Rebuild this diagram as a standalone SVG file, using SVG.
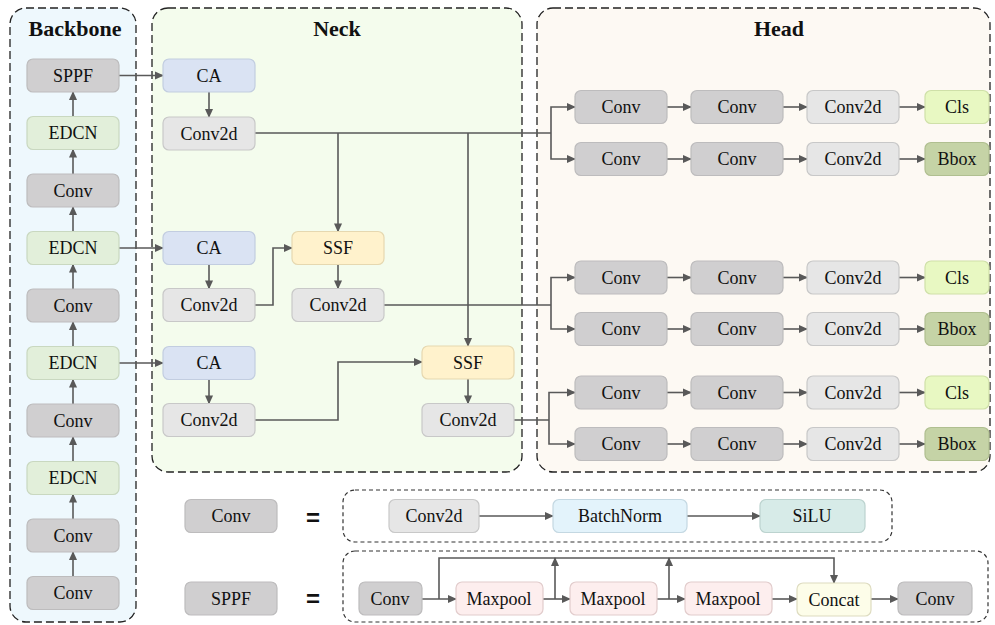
<svg xmlns="http://www.w3.org/2000/svg" width="995" height="625" viewBox="0 0 995 625" font-family="'Liberation Serif', 'Times New Roman', serif">
<defs>
<marker id="ah" viewBox="0 0 10 10" refX="9" refY="5" markerWidth="9" markerHeight="9" markerUnits="userSpaceOnUse" orient="auto">
<path d="M0,0.5 L10,5 L0,9.5 z" fill="#595959"/>
</marker>
<style>
.box{stroke-width:1.2}
.conv{fill:#d0cfd0;stroke:#bdbcbd}
.edcn{fill:#e2efda;stroke:#c9d8c0}
.ca{fill:#dae3f3;stroke:#c2cde0}
.c2d{fill:#e6e6e6;stroke:#c8c8c8}
.ssf{fill:#fff2cc;stroke:#e6d8b0}
.cls{fill:#e8f8c2;stroke:#cfe0a8}
.bbox{fill:#c5d3a6;stroke:#b0bf90}
.bn{fill:#e3f3fb;stroke:#c4d8e2}
.silu{fill:#d7ebe8;stroke:#bcd3cf}
.mp{fill:#fdeeee;stroke:#e2cccc}
.cat{fill:#fdfde9;stroke:#dedcc0}
text{font-family:'Liberation Serif','Times New Roman',serif;font-size:18px;fill:#111;text-anchor:middle}
.title{font-size:22px;font-weight:bold}
.eq{font-family:'Liberation Sans',Arial,sans-serif;font-size:24px;font-weight:bold}
.cont{stroke:#222;stroke-width:1.3;stroke-dasharray:8 4}
.def{fill:none;stroke:#333;stroke-width:1.2;stroke-dasharray:4 3}
.ln{fill:none;stroke:#595959;stroke-width:1.6}
.ar{fill:none;stroke:#595959;stroke-width:1.6;marker-end:url(#ah)}
</style>
</defs>

<g id="containers">
<rect id="backbone-box" class="cont" x="10" y="8" width="126" height="614" rx="16" fill="#eef8fd"/>
<rect id="neck-box" class="cont" x="152" y="8" width="370" height="464" rx="16" fill="#f4fced"/>
<rect id="head-box" class="cont" x="537" y="8" width="453" height="464" rx="16" fill="#fdf9f3"/>
<rect id="conv-def-box" class="def" x="343" y="490" width="549" height="52" rx="12"/>
<rect id="sppf-def-box" class="def" x="343" y="551" width="645" height="71" rx="12"/>
<text class="title" x="75" y="36">Backbone</text>
<text class="title" x="337" y="36">Neck</text>
<text class="title" x="779" y="36">Head</text>
</g>

<g id="connectors">
<line class="ar" x1="73" y1="116.5" x2="73" y2="92"/>
<line class="ar" x1="73" y1="174" x2="73" y2="149.5"/>
<line class="ar" x1="73" y1="231.5" x2="73" y2="207"/>
<line class="ar" x1="73" y1="289" x2="73" y2="264.5"/>
<line class="ar" x1="73" y1="346.5" x2="73" y2="322"/>
<line class="ar" x1="73" y1="404" x2="73" y2="379.5"/>
<line class="ar" x1="73" y1="461.5" x2="73" y2="437"/>
<line class="ar" x1="73" y1="519" x2="73" y2="494.5"/>
<line class="ar" x1="73" y1="576.5" x2="73" y2="552"/>
<line class="ar" x1="119" y1="75.5" x2="163" y2="75.5"/>
<line class="ar" x1="119" y1="248" x2="163" y2="248"/>
<line class="ar" x1="119" y1="363" x2="163" y2="363"/>
<line class="ar" x1="209" y1="92" x2="209" y2="117"/>
<line class="ar" x1="209" y1="264.5" x2="209" y2="288.5"/>
<line class="ar" x1="209" y1="379.5" x2="209" y2="403.5"/>
<polyline class="ln" points="255,133 551,133"/>
<line class="ar" x1="338" y1="133" x2="338" y2="231.5"/>
<line class="ar" x1="468" y1="133" x2="468" y2="346"/>
<polyline class="ar" points="255,305 273,305 273,248 292,248"/>
<polyline class="ar" points="255,420 338,420 338,362 422,362"/>
<line class="ar" x1="338" y1="264.5" x2="338" y2="288.5"/>
<line class="ar" x1="468" y1="379" x2="468" y2="403.5"/>
<polyline class="ln" points="384,305 551,305"/>
<polyline class="ln" points="514,420 549,420"/>
<polyline class="ar" points="551,133 551,107 575,107"/>
<polyline class="ar" points="551,133 551,159 575,159"/>
<polyline class="ar" points="551,305 551,277.5 575,277.5"/>
<polyline class="ar" points="551,305 551,329 575,329"/>
<polyline class="ar" points="549,420 549,392.5 575,392.5"/>
<polyline class="ar" points="549,420 549,444 575,444"/>
<line class="ar" x1="667" y1="107" x2="691" y2="107"/>
<line class="ar" x1="783" y1="107" x2="807" y2="107"/>
<line class="ar" x1="899" y1="107" x2="925" y2="107"/>
<line class="ar" x1="667" y1="159" x2="691" y2="159"/>
<line class="ar" x1="783" y1="159" x2="807" y2="159"/>
<line class="ar" x1="899" y1="159" x2="925" y2="159"/>
<line class="ar" x1="667" y1="277.5" x2="691" y2="277.5"/>
<line class="ar" x1="783" y1="277.5" x2="807" y2="277.5"/>
<line class="ar" x1="899" y1="277.5" x2="925" y2="277.5"/>
<line class="ar" x1="667" y1="329" x2="691" y2="329"/>
<line class="ar" x1="783" y1="329" x2="807" y2="329"/>
<line class="ar" x1="899" y1="329" x2="925" y2="329"/>
<line class="ar" x1="667" y1="392.5" x2="691" y2="392.5"/>
<line class="ar" x1="783" y1="392.5" x2="807" y2="392.5"/>
<line class="ar" x1="899" y1="392.5" x2="925" y2="392.5"/>
<line class="ar" x1="667" y1="444" x2="691" y2="444"/>
<line class="ar" x1="783" y1="444" x2="807" y2="444"/>
<line class="ar" x1="899" y1="444" x2="925" y2="444"/>
<line class="ar" x1="479" y1="516" x2="553" y2="516"/>
<line class="ar" x1="687" y1="516" x2="760" y2="516"/>
<line class="ar" x1="422" y1="599" x2="456" y2="599"/>
<line class="ar" x1="543" y1="599" x2="570" y2="599"/>
<line class="ar" x1="657" y1="599" x2="685" y2="599"/>
<line class="ar" x1="772" y1="599" x2="797" y2="599"/>
<line class="ar" x1="871" y1="599" x2="898" y2="599"/>
<polyline class="ar" points="439,599 439,558 834,558 834,583"/>
<line class="ar" x1="555" y1="599" x2="555" y2="558"/>
<line class="ar" x1="669" y1="599" x2="669" y2="558"/>
</g>

<g id="backbone-nodes">
<g id="bb-sppf"><rect class="box conv" x="27" y="59" width="92" height="33" rx="6"/><text x="73" y="81.5">SPPF</text></g>
<g id="bb-edcn4"><rect class="box edcn" x="27" y="116.5" width="92" height="33" rx="6"/><text x="73" y="139">EDCN</text></g>
<g id="bb-conv5"><rect class="box conv" x="27" y="174" width="92" height="33" rx="6"/><text x="73" y="196.5">Conv</text></g>
<g id="bb-edcn3"><rect class="box edcn" x="27" y="231.5" width="92" height="33" rx="6"/><text x="73" y="254">EDCN</text></g>
<g id="bb-conv4"><rect class="box conv" x="27" y="289" width="92" height="33" rx="6"/><text x="73" y="311.5">Conv</text></g>
<g id="bb-edcn2"><rect class="box edcn" x="27" y="346.5" width="92" height="33" rx="6"/><text x="73" y="369">EDCN</text></g>
<g id="bb-conv3"><rect class="box conv" x="27" y="404" width="92" height="33" rx="6"/><text x="73" y="426.5">Conv</text></g>
<g id="bb-edcn1"><rect class="box edcn" x="27" y="461.5" width="92" height="33" rx="6"/><text x="73" y="484">EDCN</text></g>
<g id="bb-conv2"><rect class="box conv" x="27" y="519" width="92" height="33" rx="6"/><text x="73" y="541.5">Conv</text></g>
<g id="bb-conv1"><rect class="box conv" x="27" y="576.5" width="92" height="33" rx="6"/><text x="73" y="599">Conv</text></g>
</g>

<g id="neck-nodes">
<g id="nk-ca1"><rect class="box ca" x="163" y="59" width="92" height="33" rx="6"/><text x="209" y="81.5">CA</text></g>
<g id="nk-c2d1"><rect class="box c2d" x="163" y="117" width="92" height="33" rx="6"/><text x="209" y="139.5">Conv2d</text></g>
<g id="nk-ca2"><rect class="box ca" x="163" y="231.5" width="92" height="33" rx="6"/><text x="209" y="254">CA</text></g>
<g id="nk-c2d2"><rect class="box c2d" x="163" y="288.5" width="92" height="33" rx="6"/><text x="209" y="311">Conv2d</text></g>
<g id="nk-ca3"><rect class="box ca" x="163" y="346.5" width="92" height="33" rx="6"/><text x="209" y="369">CA</text></g>
<g id="nk-c2d3"><rect class="box c2d" x="163" y="403.5" width="92" height="33" rx="6"/><text x="209" y="426">Conv2d</text></g>
<g id="nk-ssf1"><rect class="box ssf" x="292" y="231.5" width="92" height="33" rx="6"/><text x="338" y="254">SSF</text></g>
<g id="nk-c2d4"><rect class="box c2d" x="292" y="288.5" width="92" height="33" rx="6"/><text x="338" y="311">Conv2d</text></g>
<g id="nk-ssf2"><rect class="box ssf" x="422" y="346" width="92" height="33" rx="6"/><text x="468" y="368.5">SSF</text></g>
<g id="nk-c2d5"><rect class="box c2d" x="422" y="403.5" width="92" height="33" rx="6"/><text x="468" y="426">Conv2d</text></g>
</g>

<g id="head-nodes">
<g id="hd-r1">
<rect class="box conv" x="575" y="90.5" width="92" height="33" rx="6"/><text x="621" y="113">Conv</text>
<rect class="box conv" x="691" y="90.5" width="92" height="33" rx="6"/><text x="737" y="113">Conv</text>
<rect class="box c2d" x="807" y="90.5" width="92" height="33" rx="6"/><text x="853" y="113">Conv2d</text>
<rect class="box cls" x="925" y="90.5" width="64" height="33" rx="6"/><text x="957" y="113">Cls</text>
</g>
<g id="hd-r2">
<rect class="box conv" x="575" y="142.5" width="92" height="33" rx="6"/><text x="621" y="165">Conv</text>
<rect class="box conv" x="691" y="142.5" width="92" height="33" rx="6"/><text x="737" y="165">Conv</text>
<rect class="box c2d" x="807" y="142.5" width="92" height="33" rx="6"/><text x="853" y="165">Conv2d</text>
<rect class="box bbox" x="925" y="142.5" width="64" height="33" rx="6"/><text x="957" y="165">Bbox</text>
</g>
<g id="hd-r3">
<rect class="box conv" x="575" y="261" width="92" height="33" rx="6"/><text x="621" y="283.5">Conv</text>
<rect class="box conv" x="691" y="261" width="92" height="33" rx="6"/><text x="737" y="283.5">Conv</text>
<rect class="box c2d" x="807" y="261" width="92" height="33" rx="6"/><text x="853" y="283.5">Conv2d</text>
<rect class="box cls" x="925" y="261" width="64" height="33" rx="6"/><text x="957" y="283.5">Cls</text>
</g>
<g id="hd-r4">
<rect class="box conv" x="575" y="312.5" width="92" height="33" rx="6"/><text x="621" y="335">Conv</text>
<rect class="box conv" x="691" y="312.5" width="92" height="33" rx="6"/><text x="737" y="335">Conv</text>
<rect class="box c2d" x="807" y="312.5" width="92" height="33" rx="6"/><text x="853" y="335">Conv2d</text>
<rect class="box bbox" x="925" y="312.5" width="64" height="33" rx="6"/><text x="957" y="335">Bbox</text>
</g>
<g id="hd-r5">
<rect class="box conv" x="575" y="376" width="92" height="33" rx="6"/><text x="621" y="398.5">Conv</text>
<rect class="box conv" x="691" y="376" width="92" height="33" rx="6"/><text x="737" y="398.5">Conv</text>
<rect class="box c2d" x="807" y="376" width="92" height="33" rx="6"/><text x="853" y="398.5">Conv2d</text>
<rect class="box cls" x="925" y="376" width="64" height="33" rx="6"/><text x="957" y="398.5">Cls</text>
</g>
<g id="hd-r6">
<rect class="box conv" x="575" y="427.5" width="92" height="33" rx="6"/><text x="621" y="450">Conv</text>
<rect class="box conv" x="691" y="427.5" width="92" height="33" rx="6"/><text x="737" y="450">Conv</text>
<rect class="box c2d" x="807" y="427.5" width="92" height="33" rx="6"/><text x="853" y="450">Conv2d</text>
<rect class="box bbox" x="925" y="427.5" width="64" height="33" rx="6"/><text x="957" y="450">Bbox</text>
</g>
</g>

<g id="legend">
<g id="lg-conv"><rect class="box conv" x="185" y="499.5" width="92" height="33" rx="6"/><text x="231" y="522">Conv</text></g>
<text class="eq" x="313" y="526">=</text>
<g id="lg-sppf"><rect class="box conv" x="185" y="582" width="92" height="33" rx="6"/><text x="231" y="604.5">SPPF</text></g>
<text class="eq" x="313" y="607">=</text>
<g id="def-conv2d"><rect class="box c2d" x="389" y="499.5" width="90" height="33" rx="6"/><text x="434" y="522">Conv2d</text></g>
<g id="def-bn"><rect class="box bn" x="553" y="499.5" width="134" height="33" rx="6"/><text x="620" y="522">BatchNorm</text></g>
<g id="def-silu"><rect class="box silu" x="760" y="499.5" width="105" height="33" rx="6"/><text x="812" y="522">SiLU</text></g>
<g id="def-conv"><rect class="box conv" x="359" y="582" width="63" height="33" rx="6"/><text x="390" y="604.5">Conv</text></g>
<g id="def-mp1"><rect class="box mp" x="456" y="582" width="87" height="33" rx="6"/><text x="499" y="604.5">Maxpool</text></g>
<g id="def-mp2"><rect class="box mp" x="570" y="582" width="87" height="33" rx="6"/><text x="613" y="604.5">Maxpool</text></g>
<g id="def-mp3"><rect class="box mp" x="685" y="582" width="87" height="33" rx="6"/><text x="728" y="604.5">Maxpool</text></g>
<g id="def-cat"><rect class="box cat" x="797" y="583" width="74" height="33" rx="6"/><text x="834" y="605.5">Concat</text></g>
<g id="def-conv-out"><rect class="box conv" x="898" y="582" width="74" height="33" rx="6"/><text x="935" y="604.5">Conv</text></g>
</g>
</svg>
